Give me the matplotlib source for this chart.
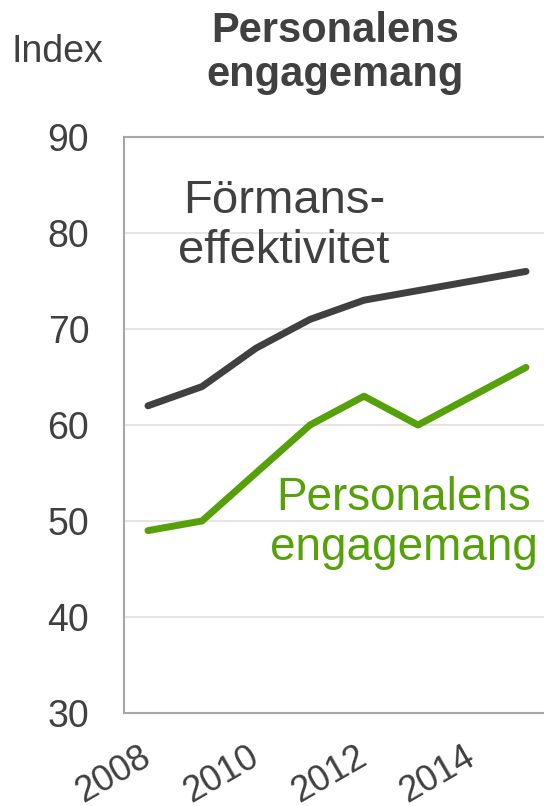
import matplotlib
matplotlib.use("Agg")
import matplotlib.pyplot as plt
import matplotlib.transforms as mtransforms

years = [2008, 2009, 2010, 2011, 2012, 2013, 2014, 2015]
formans = [62, 64, 68, 71, 73, 74, 75, 76]
engagemang = [49, 50, 55, 60, 63, 60, 63, 66]
yticks = [30, 40, 50, 60, 70, 80, 90]
xticks = [2008, 2010, 2012, 2014]

DARK = "#404040"
GREEN = "#56a10a"
plt.rcParams['font.family'] = ['Liberation Sans', 'DejaVu Sans']

W, H = 544, 806
fig = plt.figure(figsize=(W / 100, H / 100), dpi=100)
ax = fig.add_axes([124 / W, 1 - 713 / H, (W - 124) / W, (713 - 137) / H])

ax.plot(years, formans, color=DARK, lw=5, solid_capstyle='round', solid_joinstyle='round')
ax.plot(years, engagemang, color=GREEN, lw=5, solid_capstyle='round', solid_joinstyle='round')

ax.set_xlim(2007.556, 2015.333)
ax.set_ylim(30, 90)
ax.set_yticks(yticks)
ax.set_yticklabels([str(v) for v in yticks], fontsize=27, color=DARK)
ax.set_xticks(xticks)
ax.set_xticklabels([str(v) for v in xticks], fontsize=26, color=DARK,
                   rotation=30, ha='right', va='top', rotation_mode='anchor')
ax.tick_params(axis='both', length=0)
ax.tick_params(axis='y', pad=25)
ax.tick_params(axis='x', pad=19)
offset = mtransforms.ScaledTranslation(-9 / 100, 0, fig.dpi_scale_trans)
for lab in ax.get_xticklabels():
    lab.set_transform(lab.get_transform() + offset)
for y in yticks[1:-1]:
    ax.axhline(y, color="#e0e0e0", lw=1.2, zorder=0)
for s in ['left', 'bottom', 'top']:
    ax.spines[s].set_color("#a6a6a6")
    ax.spines[s].set_linewidth(1.5)
ax.spines['right'].set_visible(False)

fig.text(57 / W, 1 - 52 / H, "Index", fontsize=27, color=DARK, ha='center', va='center')
fig.text(335 / W, 1 - 53 / H, "Personalens\nengagemang", fontsize=30, fontweight='bold',
         color=DARK, ha='center', va='center', linespacing=1.15)
fig.text(284 / W, 1 - 226 / H, "Förmans-\neffektivitet", fontsize=34, color=DARK,
         ha='center', va='center', linespacing=1.2)
fig.text(404 / W, 1 - 523 / H, "Personalens\nengagemang", fontsize=33, color=GREEN,
         ha='center', va='center', linespacing=1.15)

fig.savefig("out.png", dpi=100)
